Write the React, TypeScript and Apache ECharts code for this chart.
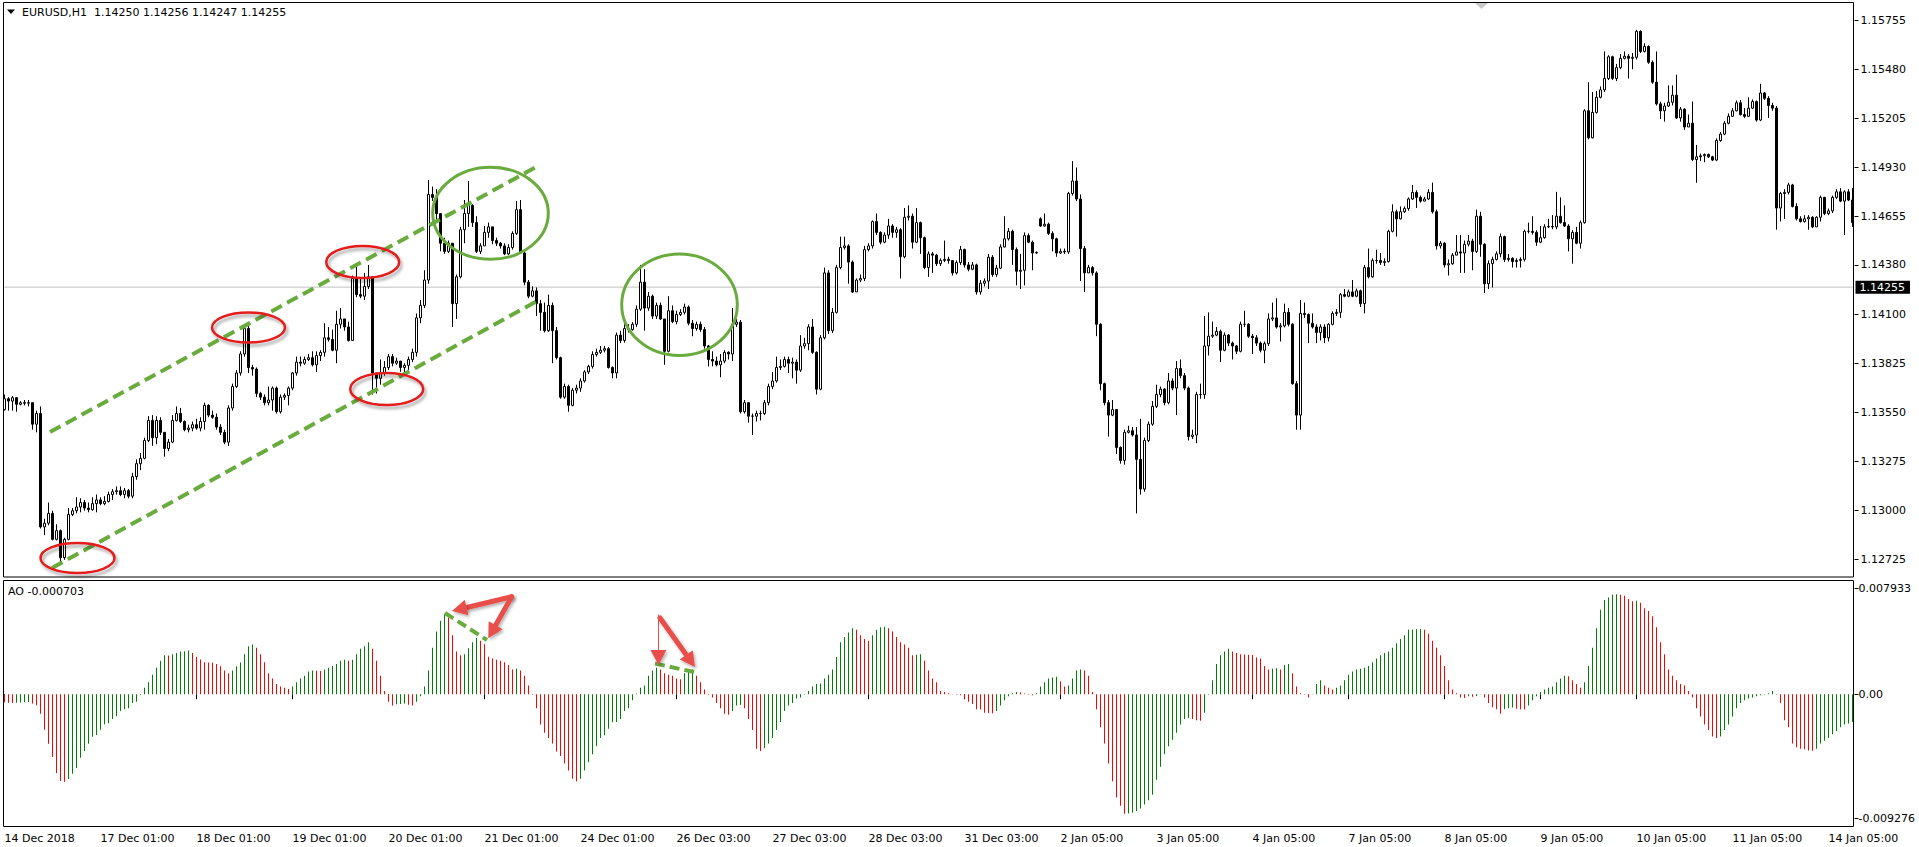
import React, { useEffect, useRef } from 'react';
import * as echarts from 'echarts';

const FONT = '"DejaVu Sans", Verdana, sans-serif';

// ---------------- data ----------------
const xLabels = ['14 Dec 2018', '17 Dec 01:00', '18 Dec 01:00', '19 Dec 01:00', '20 Dec 01:00', '21 Dec 01:00', '24 Dec 01:00', '26 Dec 03:00', '27 Dec 03:00', '28 Dec 03:00', '31 Dec 03:00', '2 Jan 05:00', '3 Jan 05:00', '4 Jan 05:00', '7 Jan 05:00', '8 Jan 05:00', '9 Jan 05:00', '10 Jan 05:00', '11 Jan 05:00', '14 Jan 05:00'];
const LABEL_STEP = 24;
const priceTicks = [1.12725, 1.13, 1.13275, 1.1355, 1.13825, 1.141, 1.1438, 1.14655, 1.1493, 1.15205, 1.1548, 1.15755];
const aoTicks = [-0.009276, 0, 0.007933];
const bidPrice = 1.14255;
const headerText = 'EURUSD,H1  1.14250 1.14256 1.14247 1.14255';
const aoHeader = 'AO -0.000703';

// prices in 1e-5 above 1.0 (13627 -> 1.13627)
const firstOpen = 13566;
const gapOpens: Record<number, number> = { 259: 14639 };

const closes = [
  13627,13614,13633,13596,13605,13602,13605,13484,13544,12906,
  12927,12982,12836,12885,12733,12836,12976,12997,13018,13043,
  13012,13003,13037,13058,13037,13049,13088,13104,13110,13088,
  13110,13079,13189,13262,13292,13392,13505,13408,13505,13438,
  13347,13383,13505,13544,13499,13453,13462,13481,13462,13499,
  13590,13535,13523,13468,13438,13383,13575,13696,13772,13879,
  14022,13803,13794,13657,13636,13605,13620,13687,13554,13636,
  13645,13687,13772,13833,13827,13848,13858,13818,13870,13888,
  13970,13961,13900,14046,14076,14031,13955,14304,14213,14204,
  14259,14313,13772,13742,13772,13803,13864,13827,13839,13803,
  13815,13848,13888,14082,14152,14295,14776,14760,14669,14502,
  14456,14502,14162,14313,14578,14669,14715,14618,14456,14487,
  14563,14594,14517,14502,14487,14442,14478,14557,14691,14447,
  14283,14204,14234,14162,14113,14010,14152,14010,13858,13636,
  13696,13590,13675,13687,13727,13778,13809,13876,13888,13900,
  13909,13803,13772,13985,13955,14022,14016,14046,14131,14283,
  14137,14204,14092,14152,14076,13894,14122,14061,14101,14113,
  14143,14052,14022,14046,14016,13924,13848,13839,13818,13839,
  13888,13879,14046,14058,13554,13605,13529,13529,13544,13544,
  13605,13696,13727,13803,13809,13848,13827,13833,13788,13924,
  13937,14031,13888,13681,13970,14335,14010,14113,14365,14478,
  14487,14396,14228,14295,14304,14466,14487,14624,14563,14508,
  14548,14599,14563,14578,14426,14648,14654,14508,14618,14533,
  14365,14442,14435,14387,14405,14411,14405,14335,14393,14466,
  14380,14356,14380,14228,14277,14289,14423,14326,14362,14481,
  14527,14569,14466,14344,14350,14545,14508,14447,14450,14599,
  14609,14557,14527,14447,14456,14453,14782,14852,14751,14472,
  14335,14365,14335,14046,13712,13605,13535,13566,13353,13280,
  13438,13447,13423,13286,13119,13392,13484,13584,13651,13681,
  13605,13727,13687,13797,13757,13687,13414,13423,13651,13651,
  13924,13979,13985,14006,13900,13985,13940,13924,13894,14046,
  14046,13979,13970,13940,13900,13937,14076,14082,14031,14037,
  14113,14046,13712,13535,14107,14101,14052,14031,14000,14031,
  13970,14046,14107,14113,14213,14204,14228,14204,14234,14162,
  14365,14313,14405,14405,14393,14399,14569,14679,14639,14679,
  14697,14751,14788,14760,14739,14751,14788,14679,14487,14502,
  14380,14387,14435,14453,14447,14496,14514,14456,14654,14496,
  14274,14387,14411,14442,14539,14411,14417,14399,14405,14411,
  14569,14569,14563,14508,14533,14594,14596,14594,14654,14618,
  14599,14527,14563,14502,14618,15247,15095,15238,15323,15365,
  15429,15551,15429,15490,15542,15554,15542,15548,15694,15581,
  15609,15520,15408,15286,15247,15274,15295,15335,15207,15256,
  15156,15177,14973,14988,14994,15001,14988,14970,15080,15116,
  15177,15216,15247,15292,15226,15216,15262,15299,15195,15347,
  15317,15277,15262,14700,14782,14788,14830,14709,14639,14624,
  14639,14648,14594,14648,14760,14669,14684,14760,14791,14739,
  14791,14745,14618,
];

const highs = [
  13651,13636,13642,13636,13614,13620,13620,13605,13560,13584,
  12952,13043,12997,12921,12891,12845,13012,13012,13073,13067,
  13058,13043,13073,13088,13073,13079,13104,13119,13134,13134,
  13125,13119,13210,13286,13322,13408,13529,13535,13529,13523,
  13438,13401,13535,13584,13575,13505,13481,13499,13514,13523,
  13605,13596,13560,13544,13484,13453,13590,13712,13788,13894,
  14037,14046,13818,13803,13666,13651,13696,13696,13696,13651,
  13657,13696,13778,13864,13864,13864,13879,13894,13894,13900,
  14052,14031,14016,14122,14137,14052,14061,14320,14387,14304,
  14335,14380,14304,13772,13848,13839,13879,13879,13858,13839,
  13827,13864,13909,14107,14183,14350,14858,14821,14806,14669,
  14533,14517,14502,14326,14594,14745,14852,14721,14654,14502,
  14599,14618,14594,14533,14508,14502,14496,14569,14739,14745,
  14456,14295,14259,14253,14183,14168,14213,14168,14031,13864,
  13712,13706,13687,13706,13742,13788,13818,13894,13909,13924,
  13924,13918,13809,14000,14010,14076,14046,14058,14152,14380,
  14356,14228,14213,14168,14168,14076,14204,14152,14122,14131,
  14162,14152,14070,14061,14061,14031,13930,13894,13864,13879,
  13900,13894,14137,14076,14070,13620,13605,13544,13560,13560,
  13620,13712,13778,13864,13848,13864,13864,13858,13848,13985,
  13970,14046,14076,13894,13985,14365,14350,14137,14380,14539,
  14539,14496,14405,14304,14326,14487,14502,14630,14669,14569,
  14563,14639,14609,14594,14587,14700,14715,14669,14700,14624,
  14539,14456,14453,14442,14417,14517,14426,14405,14405,14487,
  14472,14396,14396,14387,14295,14304,14442,14435,14380,14496,
  14654,14587,14578,14478,14442,14563,14557,14517,14456,14648,
  14669,14618,14569,14533,14472,14472,14791,14964,14928,14776,
  14487,14380,14374,14344,14052,13718,13620,13620,13566,13359,
  13453,13475,13468,13468,13514,13408,13499,13614,13706,13696,
  13687,13772,13742,13839,13848,13772,13696,13453,13666,13712,
  14092,14113,14061,14031,14016,14000,13991,13949,13930,14061,
  14122,14052,13991,13985,13949,13949,14107,14168,14192,14052,
  14162,14137,14052,13727,14183,14168,14107,14107,14046,14046,
  14046,14052,14119,14131,14222,14244,14241,14295,14247,14241,
  14380,14472,14417,14466,14447,14417,14578,14721,14691,14709,
  14709,14760,14830,14800,14770,14763,14806,14843,14691,14514,
  14508,14411,14447,14548,14548,14517,14548,14527,14691,14679,
  14502,14405,14426,14456,14557,14545,14442,14423,14417,14423,
  14578,14618,14654,14575,14599,14609,14639,14660,14791,14760,
  14715,14609,14575,14594,14630,15256,15408,15353,15359,15384,
  15581,15560,15557,15511,15566,15581,15566,15572,15703,15700,
  15627,15615,15530,15581,15298,15292,15390,15390,15450,15268,
  15262,15226,15299,15055,15007,15007,15007,14994,15092,15128,
  15189,15232,15262,15305,15308,15262,15323,15311,15305,15399,
  15353,15329,15292,15274,14791,14806,14842,14836,14727,14654,
  14660,14660,14654,14654,14770,14763,14697,14770,14806,14812,
  14800,14806,14812,
];

const lows = [
  13560,13560,13560,13554,13590,13590,13584,13453,13438,12897,
  12860,12915,12830,12830,12708,12721,12830,12967,12982,12988,
  12997,12988,12997,12988,13028,13028,13043,13058,13088,13079,
  13067,13067,13067,13171,13225,13286,13383,13362,13371,13423,
  13301,13332,13377,13499,13490,13444,13438,13444,13453,13444,
  13453,13523,13514,13453,13423,13371,13362,13560,13687,13757,
  13864,13772,13757,13636,13620,13590,13590,13560,13544,13544,
  13620,13590,13675,13757,13809,13818,13839,13809,13778,13839,
  13864,13949,13894,13827,14022,14010,13949,14010,14198,14192,
  14183,14244,13651,13657,13706,13757,13788,13809,13818,13778,
  13772,13788,13833,13864,14052,14137,14274,14739,14624,14456,
  14442,14447,14031,14076,14304,14502,14594,14594,14447,14442,
  14487,14533,14496,14487,14472,14435,14435,14466,14548,14442,
  14265,14192,14198,14092,14010,14000,14003,13827,13848,13627,
  13627,13554,13584,13657,13666,13718,13766,13797,13864,13879,
  13888,13797,13742,13742,13940,13943,14000,14010,14031,14122,
  14010,14122,14076,14076,14070,13818,13888,14052,14046,14092,
  14101,14040,13979,14010,14003,13909,13809,13809,13809,13748,
  13827,13848,13839,14031,13544,13544,13493,13423,13499,13505,
  13535,13590,13681,13718,13788,13803,13772,13742,13712,13778,
  13909,13900,13879,13651,13675,13961,13991,13997,14107,14356,
  14466,14274,14222,14228,14283,14289,14456,14472,14548,14496,
  14502,14527,14533,14533,14304,14417,14630,14472,14502,14442,
  14356,14313,14335,14374,14374,14396,14387,14320,14326,14380,
  14365,14344,14350,14213,14213,14259,14244,14313,14313,14356,
  14478,14517,14380,14265,14244,14265,14502,14350,14442,14594,
  14594,14548,14456,14426,14442,14442,14442,14770,14739,14289,
  14228,14335,14320,13979,13675,13590,13414,13529,13316,13262,
  13256,13432,13414,12982,13088,13104,13383,13475,13575,13636,
  13590,13596,13675,13535,13742,13675,13392,13401,13377,13627,
  13627,13870,13970,13979,13833,13894,13924,13848,13879,13888,
  14031,13970,13879,13924,13888,13827,13924,14064,14022,13949,
  14028,14034,13706,13453,13453,14082,13940,14022,13940,13955,
  13940,13949,14040,14092,14082,14198,14198,14198,14198,14143,
  14107,14304,14307,14387,14380,14374,14393,14563,14539,14636,
  14672,14685,14745,14700,14730,14739,14745,14669,14466,14472,
  14365,14320,14380,14435,14335,14335,14484,14350,14447,14426,
  14222,14244,14253,14405,14423,14396,14399,14365,14365,14365,
  14399,14557,14551,14487,14502,14527,14587,14581,14581,14612,
  14594,14456,14387,14496,14472,14612,15086,15092,15232,15317,
  15353,15420,15420,15414,15481,15536,15429,15481,15536,15572,
  15575,15511,15399,15277,15201,15186,15268,15277,15201,15186,
  15140,15159,14964,14842,14964,14958,14982,14964,14964,15073,
  15110,15171,15213,15244,15220,15207,15213,15256,15186,15189,
  15308,15207,15247,14578,14624,14639,14776,14703,14630,14618,
  14618,14578,14587,14594,14624,14660,14660,14672,14751,14733,
  14548,14739,14594,
];

// Awesome Oscillator values in 1e-5
const aoValues = [
  -60,-64,-66,-64,-62,-60,-58,-70,-82,-146,
  -265,-370,-470,-590,-650,-655,-635,-595,-552,-475,
  -425,-370,-318,-305,-265,-225,-218,-185,-165,-125,
  -112,-105,-65,-57,-5,49,89,146,198,251,
  292,290,300,308,320,322,328,308,280,260,
  240,238,236,226,210,178,158,178,210,238,
  300,360,373,348,300,239,158,117,77,57,
  49,40,57,89,117,138,170,178,176,174,
  186,198,211,227,251,259,251,259,300,340,
  360,389,340,251,138,24,-57,-85,-75,-73,
  -70,-78,-85,-57,-16,57,178,348,470,551,
  603,575,441,320,292,300,345,389,421,401,
  374,280,267,259,251,239,219,186,190,178,
  138,65,-4,-105,-227,-288,-328,-369,-429,-462,
  -518,-571,-632,-652,-632,-571,-510,-450,-389,-328,
  -308,-259,-210,-207,-186,-126,-105,-45,5,49,
  65,138,178,198,186,158,146,138,117,112,
  158,178,186,138,89,36,-4,-24,-65,-105,
  -146,-154,-126,-85,-80,-105,-186,-267,-409,-425,
  -405,-369,-328,-267,-207,-126,-85,-65,-32,-24,
  -4,24,57,77,80,117,146,186,279,389,
  429,462,494,482,441,413,401,441,482,502,
  506,494,470,429,389,373,348,292,296,300,
  251,178,117,89,24,16,8,2,-4,-8,
  -32,-57,-73,-113,-115,-138,-140,-142,-126,-85,
  -45,-16,8,16,14,6,-4,-8,8,57,
  89,117,126,130,97,57,65,117,178,186,
  178,138,16,-113,-247,-369,-518,-652,-774,-834,
  -895,-893,-887,-875,-855,-826,-794,-753,-640,-543,
  -450,-389,-340,-288,-227,-186,-178,-186,-194,-198,
  -138,-4,105,227,292,320,340,320,308,300,
  298,296,294,275,267,211,186,190,194,186,
  219,227,158,57,8,-4,-24,2,77,105,
  65,49,36,49,65,105,146,170,186,190,
  198,211,239,267,292,308,320,348,381,413,
  441,482,484,486,488,482,453,401,348,292,
  211,105,36,8,-24,-28,-16,-18,-14,-2,
  -24,-65,-97,-113,-146,-113,-105,-100,-108,-112,
  -115,-85,-45,-16,16,36,49,57,89,117,
  138,134,105,77,49,89,211,348,494,632,
  705,725,745,748,745,737,713,697,699,684,
  644,624,583,502,389,300,186,138,105,77,
  65,24,-24,-105,-166,-227,-267,-316,-328,-316,
  -267,-227,-166,-105,-65,-45,-32,-24,-16,-8,
  -2,8,24,-4,-65,-194,-247,-369,-397,-409,
  -411,-421,-423,-409,-369,-348,-328,-300,-275,-247,
  -227,-219,-207,
];

// ---------------- styles / annotation geometry (pixels) ----------------
const GREEN_ANN = '#6aab3e';
const RED_ELL = '#e31b1b';
const ARROW = '#e8504b';
const AO_UP = '#008000';
const AO_DOWN = '#ff0000';

const channelLines = [
  [50, 432, 538, 166],
  [52, 568, 539, 300],
];
const redEllipses = [
  [77.5, 558, 37, 15],
  [248.5, 327.5, 36.5, 15],
  [362.7, 262, 36.5, 16],
  [386.7, 389, 36.5, 16],
];
const greenEllipses = [
  [490.5, 213.3, 57.8, 46],
  [679.5, 304.8, 57.8, 50.8],
];
const aoDashLines = [
  [445, 613, 487, 640],
  [655, 663.5, 697, 672.7],
];
const arrows = [
  [511.7, 596.7, 452, 611],
  [511.7, 596.7, 488.3, 638.3],
  [658.3, 617, 658.5, 665],
  [660, 618, 695, 667],
];

function arrowEls(a: number[]) {
  const [x1, y1, x2, y2] = a;
  const dx = x2 - x1, dy = y2 - y1;
  const len = Math.hypot(dx, dy);
  const ux = dx / len, uy = dy / len;
  const hl = 15, hw = 8;
  const bx = x2 - ux * hl, by = y2 - uy * hl;
  const shadow = { shadowBlur: 3, shadowOffsetX: 1.5, shadowOffsetY: 2, shadowColor: 'rgba(0,0,0,0.3)' };
  return [
    { type: 'line', z: 120, shape: { x1, y1, x2: bx + ux * 3, y2: by + uy * 3 }, style: { stroke: ARROW, lineWidth: 5, lineCap: 'round', ...shadow } },
    { type: 'polygon', z: 121, shape: { points: [[x2, y2], [bx - uy * hw, by + ux * hw], [bx + uy * hw, by - ux * hw]] }, style: { fill: ARROW, ...shadow } },
  ];
}

export default function App() {
  const ref = useRef<HTMLDivElement>(null);

  useEffect(() => {
    if (!ref.current) return;
    const chart = echarts.init(ref.current, undefined, { renderer: 'svg' });

    const cats = closes.map((_, i) => String(i));
    const candles = closes.map((c, i) => {
      const o = i === 0 ? firstOpen : (gapOpens[i] !== undefined ? gapOpens[i] : closes[i - 1]);
      const h = Math.max(highs[i], o, c);
      const l = Math.min(lows[i], o, c);
      return [1 + o / 1e5, 1 + c / 1e5, 1 + l / 1e5, 1 + h / 1e5];
    });
    const aoData = aoValues.map((v, i) => ({
      value: v / 1e5,
      itemStyle: { color: i > 0 && v > aoValues[i - 1] ? AO_UP : AO_DOWN },
    }));
    const isLabel = (i: number) => i % LABEL_STEP === 0;

    const graphic: any[] = [
      { type: 'rect', z: 90, shape: { x: 3.5, y: 2.5, width: 1850, height: 574.5 }, style: { fill: 'none', stroke: '#000', lineWidth: 1 } },
      { type: 'rect', z: 90, shape: { x: 3.5, y: 580.5, width: 1850, height: 246 }, style: { fill: 'none', stroke: '#000', lineWidth: 1 } },
      { type: 'polygon', z: 90, shape: { points: [[7, 9.5], [15, 9.5], [11, 14]] }, style: { fill: '#000' } },
      { type: 'text', z: 90, x: 22, y: 12, style: { text: headerText, fontFamily: FONT, fontSize: 11, fill: '#000', verticalAlign: 'middle' } },
      { type: 'text', z: 90, x: 8, y: 591.5, style: { text: aoHeader, fontFamily: FONT, fontSize: 11, fill: '#000', verticalAlign: 'middle' } },
      { type: 'polygon', z: 90, shape: { points: [[1475, 3], [1488, 3], [1481.5, 9]] }, style: { fill: '#c8c8c8' } },
    ];
    channelLines.forEach(([x1, y1, x2, y2]) => graphic.push({ type: 'line', z: 110, shape: { x1, y1, x2, y2 }, style: { stroke: GREEN_ANN, lineWidth: 4, lineDash: [12, 6] } }));
    redEllipses.forEach(([cx, cy, rx, ry]) => graphic.push({ type: 'ellipse', z: 112, shape: { cx, cy, rx, ry }, style: { fill: 'none', stroke: RED_ELL, lineWidth: 2.5, shadowBlur: 3, shadowOffsetX: 2, shadowOffsetY: 3, shadowColor: 'rgba(0,0,0,0.35)' } }));
    greenEllipses.forEach(([cx, cy, rx, ry]) => graphic.push({ type: 'ellipse', z: 112, shape: { cx, cy, rx, ry }, style: { fill: 'none', stroke: GREEN_ANN, lineWidth: 3 } }));
    aoDashLines.forEach(([x1, y1, x2, y2]) => graphic.push({ type: 'line', z: 110, shape: { x1, y1, x2, y2 }, style: { stroke: GREEN_ANN, lineWidth: 4, lineDash: [10, 5] } }));
    arrows.forEach((a) => graphic.push(...arrowEls(a)));

    chart.setOption({
      animation: false,
      backgroundColor: '#ffffff',
      textStyle: { fontFamily: FONT },
      grid: [
        { left: 2.5, width: 1852, top: 3, height: 574 },
        { left: 2.5, width: 1852, top: 581, height: 245.5 },
      ],
      xAxis: [
        {
          type: 'category', gridIndex: 0, data: cats, boundaryGap: true,
          axisLine: { show: false }, axisTick: { show: false }, axisLabel: { show: false }, splitLine: { show: false },
        },
        {
          type: 'category', gridIndex: 1, data: cats, boundaryGap: true,
          axisLine: { show: false },
          axisTick: { show: true, alignWithLabel: true, interval: (i: number) => isLabel(i), length: 5, lineStyle: { color: '#000' } },
          axisLabel: {
            interval: (i: number) => isLabel(i),
            formatter: (_v: string, i: number) => (isLabel(i) ? xLabels[i / LABEL_STEP] : ''),
            align: 'left', margin: 6, color: '#000', fontFamily: FONT, fontSize: 11,
          },
          splitLine: { show: false },
        },
      ],
      yAxis: [
        {
          type: 'value', gridIndex: 0, position: 'right', min: 1.126242, max: 1.158535,
          axisLine: { show: false }, splitLine: { show: false },
          axisTick: { show: true, length: 4, customValues: priceTicks, lineStyle: { color: '#000' } },
          axisLabel: { customValues: priceTicks, formatter: (v: number) => v.toFixed(5), margin: 6, color: '#000', fontFamily: FONT, fontSize: 11 },
        },
        {
          type: 'value', gridIndex: 1, position: 'right', min: -0.009902, max: 0.008477,
          axisLine: { show: false }, splitLine: { show: false },
          axisTick: { show: true, length: 4, customValues: aoTicks, lineStyle: { color: '#000' } },
          axisLabel: { customValues: aoTicks, formatter: (v: number) => (v === 0 ? '0.00' : v.toFixed(6)), margin: 4, color: '#000', fontFamily: FONT, fontSize: 11 },
        },
      ],
      series: [
        {
          type: 'line', xAxisIndex: 0, yAxisIndex: 0, z: 1, silent: true,
          data: [[cats[0], bidPrice], [cats[cats.length - 1], bidPrice]],
          symbol: 'none', lineStyle: { color: '#c0c0c0', width: 1 },
          endLabel: { show: true, formatter: bidPrice.toFixed(5), color: '#fff', backgroundColor: '#000', padding: [1, 5, 1, 4], distance: 3, fontFamily: FONT, fontSize: 11 },
        },
        {
          type: 'candlestick', xAxisIndex: 0, yAxisIndex: 0, data: candles, barWidth: 2, z: 2,
          itemStyle: { color: '#ffffff', color0: '#000000', borderColor: '#000000', borderColor0: '#000000', borderWidth: 1 },
        },
        {
          type: 'bar', xAxisIndex: 1, yAxisIndex: 1, data: aoData, barWidth: 1,
        },
      ],
      graphic,
    });

    return () => chart.dispose();
  }, []);

  return (
    <div
      ref={ref}
      style={{ position: 'absolute', left: 0, top: 0, width: 1919, height: 847, background: '#fff' }}
    />
  );
}
